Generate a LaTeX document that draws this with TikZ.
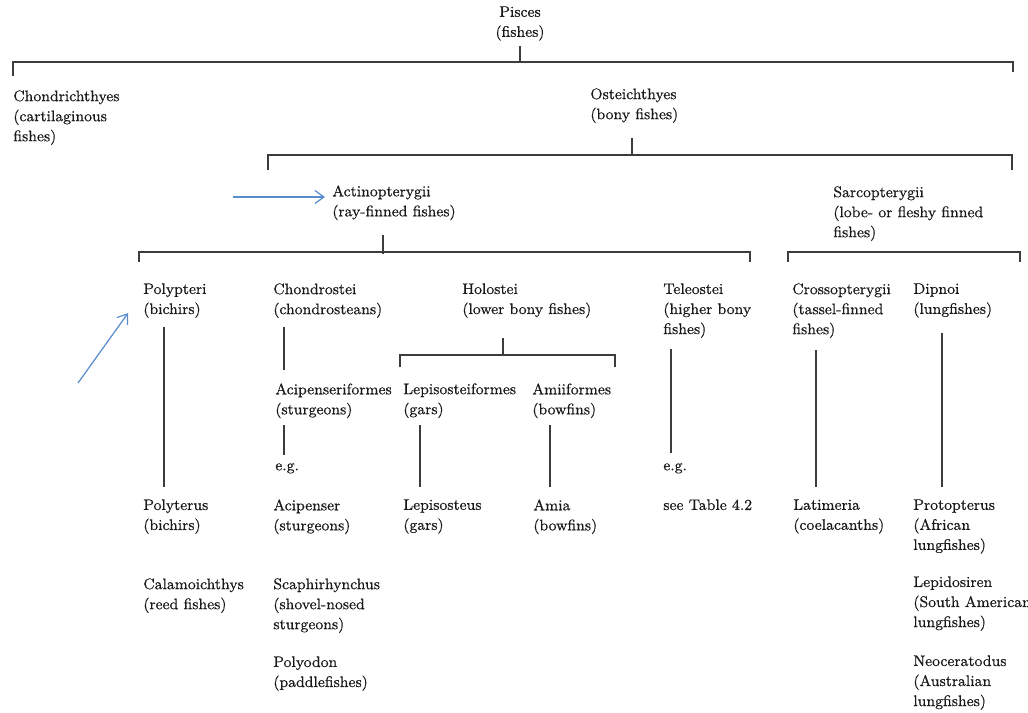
\documentclass[tikz,border=0pt]{standalone}
\usepackage{fontspec}
\setmainfont{Latin Modern Roman}[FakeBold=0.5]
\usetikzlibrary{arrows.meta}
\definecolor{linegray}{RGB}{60,60,60}
\definecolor{arrowblue}{RGB}{88,140,205}
\tikzset{
  txt/.style={anchor=north west, align=left, inner sep=0pt, text=black!90,
    font=\fontsize{8.7}{11.4}\selectfont},
  link/.style={draw=linegray, line width=0.8pt},
  pointer/.style={draw=arrowblue, line width=0.7pt,
    -{Straight Barb[length=1.8mm,width=2.6mm]}}
}
\begin{document}
\begin{tikzpicture}[x=0.2mm, y=-0.2mm]
      \useasboundingbox (0,0) rectangle (1028,713);
      \draw
        (520,6) node[txt, anchor=north, align=center] (pisces){Pisces\\(fishes)}
        (13,90) node[txt] (chond){Chondrichthyes\\(cartilaginous\\fishes)}
        (590,88) node[txt] (osteich){Osteichthyes\\(bony fishes)}
        (332,185) node[txt] (actino){Actinopterygii\\(ray-finned fishes)}
        (833,186) node[txt] (sarco){Sarcopterygii\\(lobe- or fleshy finned\\fishes)}
        (143,283) node[txt] (polypteri){Polypteri\\(bichirs)}
        (273,283) node[txt] (chondrostei){Chondrostei\\(chondrosteans)}
        (462,283) node[txt] (holostei){Holostei\\(lower bony fishes)}
        (663,283) node[txt] (teleostei){Teleostei\\(higher bony\\fishes)}
        (792,283) node[txt] (crosso){Crossopterygii\\(tassel-finned\\fishes)}
        (913,283) node[txt] (dipnoi){Dipnoi\\(lungfishes)}
        (275,383) node[txt] (acipform){Acipenseriformes\\(sturgeons)}
        (403,383) node[txt] (lepiform){Lepisosteiformes\\(gars)}
        (532,383) node[txt] (amiform){Amiiformes\\(bowfins)}
        (275,463) node[txt] (eg1){e.g.}
        (663,463) node[txt] (eg2){e.g.}
        (143,499) node[txt] (polyterus){Polyterus\\(bichirs)}
        (273,499) node[txt] (acipenser){Acipenser\\(sturgeons)}
        (403,499) node[txt] (lepisosteus){Lepisosteus\\(gars)}
        (533,499) node[txt] (amia){Amia\\(bowfins)}
        (663,499) node[txt] (seetable){see Table 4.2}
        (793,499) node[txt] (latimeria){Latimeria\\(coelacanths)}
        (913,499) node[txt] (protopterus){Protopterus\\(African\\lungfishes)}
        (143,578) node[txt] (calamo){Calamoichthys\\(reed fishes)}
        (273,578) node[txt] (scaphi){Scaphirhynchus\\(shovel-nosed\\sturgeons)}
        (273,656) node[txt] (polyodon){Polyodon\\(paddlefishes)}
        (913,576) node[txt] (lepidosiren){Lepidosiren\\(South American\\lungfishes)}
        (913,655) node[txt] (neocerat){Neoceratodus\\(Australian\\lungfishes)};
      % bracket corners
      \coordinate (pisL) at (13,62);
      \coordinate (pisR) at (1013,62);
      \coordinate (ostL) at (268,155);
      \coordinate (ostR) at (1012,155);
      \coordinate (actL) at (139,252);
      \coordinate (actR) at (750,252);
      \coordinate (sarL) at (788,252);
      \coordinate (sarR) at (1020,252);
      \coordinate (holL) at (400,355);
      \coordinate (holR) at (615,355);
      \coordinate (arrA) at (233,197);
      \coordinate (arrB) at (78,383);
      \begin{scope}[link]
        \draw ([shift={(0,5)}]pisces.south) -- (pisces.south |- pisL);
        \draw ([shift={(0,-14)}]chond.north west) -- (pisL) -- (pisR) -- ++(0,10);
        \draw ([shift={(42,15)}]osteich.south west) -- ++(0,17);
        \draw ([shift={(0,15)}]ostL) -- (ostL) -- (ostR) -- ++(0,15);
        \draw ([shift={(51,15)}]actino.south west) -- ++(0,19);
        \draw ([shift={(0,10)}]actL) -- (actL) -- (actR) -- ++(0,10);
        \draw ([shift={(0,10)}]sarL) -- (sarL) -- (sarR) -- ++(0,10);
        \draw ([shift={(41,20)}]holostei.south west) -- ++(0,17);
        \draw ([shift={(0,12)}]holL) -- (holL) -- (holR) -- ++(0,12);
        \draw ([shift={(21,9)}]polypteri.south west) -- ([shift={(21,-12)}]polyterus.north west);
        \draw ([shift={(11,9)}]chondrostei.south west) -- ([shift={(9,-13)}]acipform.north west);
        \draw ([shift={(9,7)}]acipform.south west) -- ([shift={(9,-8)}]eg1.north west);
        \draw ([shift={(17,7)}]lepiform.south west) -- ([shift={(17,-12)}]lepisosteus.north west);
        \draw ([shift={(18,7)}]amiform.south west) -- ([shift={(17,-12)}]amia.north west);
        \draw ([shift={(8,11)}]teleostei.south west) -- ([shift={(8,-10)}]eg2.north west);
        \draw ([shift={(24,12)}]crosso.south west) -- ([shift={(23,-12)}]latimeria.north west);
        \draw ([shift={(29,15)}]dipnoi.south west) -- ([shift={(29,-12)}]protopterus.north west);
      \end{scope}
      \draw[pointer] (arrA) -- ([shift={(-7,12)}]actino.north west);
      \draw[pointer] (arrB) -- ([shift={(-15,-5)}]polypteri.south west);
    \end{tikzpicture}
\end{document}
